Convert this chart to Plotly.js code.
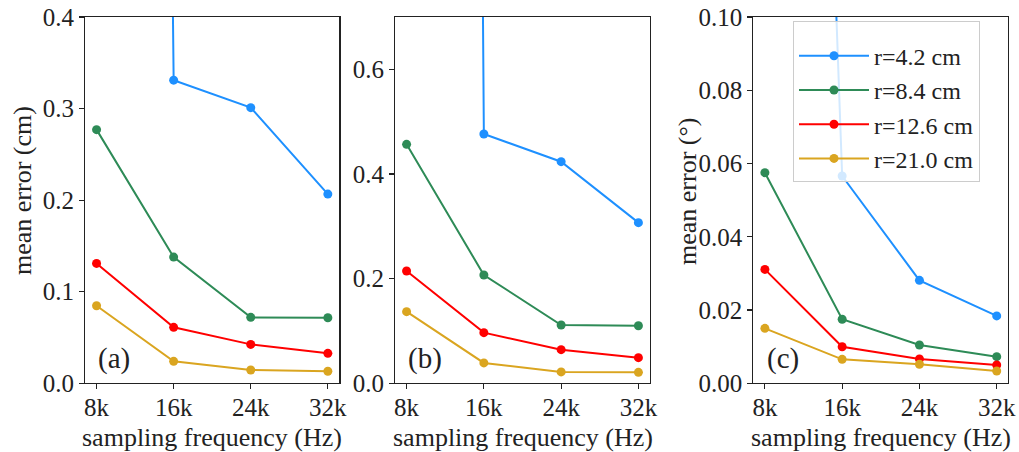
<!DOCTYPE html>
<html>
<head>
<meta charset="utf-8">
<script src="https://cdn.plot.ly/plotly-3.0.1.min.js"></script>
<style>html,body{margin:0;padding:0;background:#fff;}#chart{width:1019px;height:452px;}</style>
</head>
<body>
<div id="chart"></div>
<script>
// ---- data ----
const freqs = [8000, 16000, 24000, 32000];
const freqLabels = ['8k', '16k', '24k', '32k'];
const seriesNames = ['r=4.2 cm', 'r=8.4 cm', 'r=12.6 cm', 'r=21.0 cm'];
const seriesColors = ['#1E90FF', '#2E8B57', '#FF0000', '#DAA520'];

// (a) mean position error (cm)
const a_r42  = [8.0,   0.331,  0.301,  0.2066];
const a_r84  = [0.277, 0.1378, 0.0720, 0.0716];
const a_r126 = [0.1309,0.0611, 0.0425, 0.0327];
const a_r210 = [0.0847,0.0240, 0.0145, 0.0131];

// (b) mean error (cm)
const b_r42  = [20.0,  0.4764, 0.4235, 0.3070];
const b_r84  = [0.4567,0.2070, 0.1114, 0.1100];
const b_r126 = [0.2146,0.0968, 0.0643, 0.0490];
const b_r210 = [0.1369,0.0389, 0.0217, 0.0210];

// (c) mean angular error (deg)
const c_r42  = [0.64,  0.0566, 0.0281, 0.0184];
const c_r84  = [0.0575,0.0175, 0.01045,0.00727];
const c_r126 = [0.0311,0.00999,0.00663,0.0050];
const c_r210 = [0.0150,0.00655,0.0052, 0.00336];

const panels = [
  {x:'x', y:'y',  data:[a_r42,a_r84,a_r126,a_r210], label:'(a)'},
  {x:'x2',y:'y2', data:[b_r42,b_r84,b_r126,b_r210], label:'(b)'},
  {x:'x3',y:'y3', data:[c_r42,c_r84,c_r126,c_r210], label:'(c)'}
];

const FONT = "'Liberation Serif', 'Times New Roman', Times, serif";
const FS_TICK = 25;
const FS_TITLE = 26;
const TXT = '#222';
const traces = [];
panels.forEach((p, pi) => {
  p.data.forEach((vals, si) => {
    traces.push({
      type:'scatter', mode:'lines+markers',
      x: freqs, y: vals, xaxis:p.x, yaxis:p.y,
      name: seriesNames[si], showlegend: pi === 2,
      line:{color:seriesColors[si], width:2},
      marker:{color:seriesColors[si], size:9},
      cliponaxis:true
    });
  });
});

const W = 1019, H = 452;
const plotTop = 17, plotBottom = 383.3;
const ydom = [1 - plotBottom/H, 1 - plotTop/H];
const xdoms = [[85/W, 339.4/W],[395/W, 650/W],[753.3/W, 1008.3/W]];

function xax(dom, anchor){
  return {domain:dom, anchor:anchor, range:[6800, 33200], tickvals:freqs, ticktext:freqLabels,
    showgrid:false, zeroline:false, showline:true, mirror:true, linecolor:'#222', linewidth:1.1,
    ticks:'outside', ticklen:5, tickwidth:1.1, tickcolor:'#222', ticklabelstandoff:-3,
    tickfont:{family:FONT, size:FS_TICK, color:TXT}};
}
function yax(dom, anchor, range, tv, fmt){
  return {domain:dom, anchor:anchor, range:range, tickvals:tv, tickformat:fmt,
    showgrid:false, zeroline:false, showline:true, mirror:true, linecolor:'#222', linewidth:1.1,
    ticks:'outside', ticklen:5, tickwidth:1.1, tickcolor:'#222',
    tickfont:{family:FONT, size:FS_TICK, color:TXT}};
}

const annotations = [];
panels.forEach((p, pi) => {
  const xn = pi === 0 ? 'x' : 'x' + (pi+1);
  annotations.push({xref: xn + ' domain', yref:'paper', x:0.5, y:1 - 437/H, text:'sampling frequency (Hz)',
    showarrow:false, xanchor:'center', yanchor:'middle', font:{family:FONT, size:FS_TITLE, color:TXT}});
  annotations.push({xref: xn + ' domain', yref:'paper', x:0.045, y:1 - 358/H, text:p.label,
    showarrow:false, xanchor:'left', yanchor:'middle', font:{family:FONT, size:29, color:TXT}});
});
annotations.push({xref:'paper', yref:'paper', x:23/W, y:1 - 191/H, text:'mean error (cm)', textangle:-90,
  showarrow:false, xanchor:'center', yanchor:'middle', font:{family:FONT, size:FS_TITLE, color:TXT}});
annotations.push({xref:'paper', yref:'paper', x:688/W, y:1 - 191/H, text:'mean error (°)', textangle:-90,
  showarrow:false, xanchor:'center', yanchor:'middle', font:{family:FONT, size:FS_TITLE, color:TXT}});

const layout = {
  width:W, height:H, margin:{l:0,r:0,t:0,b:0},
  paper_bgcolor:'#fff', plot_bgcolor:'#fff',
  font:{family:FONT, size:FS_TICK, color:TXT},
  xaxis: xax(xdoms[0], 'y'),
  xaxis2: xax(xdoms[1], 'y2'),
  xaxis3: xax(xdoms[2], 'y3'),
  yaxis: yax(ydom, 'x', [0, 0.4], [0,0.1,0.2,0.3,0.4], '.1f'),
  yaxis2: yax(ydom, 'x2', [0, 0.7], [0,0.2,0.4,0.6], '.1f'),
  yaxis3: yax(ydom, 'x3', [0, 0.1], [0,0.02,0.04,0.06,0.08,0.10], '.2f'),
  legend:{x:793/W, y:1 - 21/H, xanchor:'left', yanchor:'top', bgcolor:'rgba(255,255,255,0.8)',
    bordercolor:'#cccccc', borderwidth:1, font:{family:FONT, size:24, color:TXT},
    title:{text:' ', font:{size:9}}, itemwidth:70},
  annotations:annotations,
  showlegend:true
};

Plotly.newPlot('chart', traces, layout, {displayModeBar:false, staticPlot:true});
</script>
</body>
</html>
